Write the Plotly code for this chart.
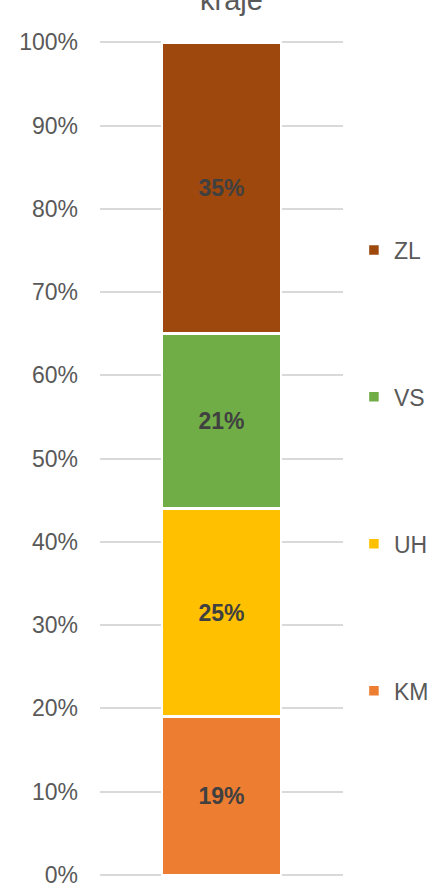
import plotly.graph_objects as go

categories = ["kraje"]
series = ["KM", "UH", "VS", "ZL"]
values = [19, 25, 21, 35]
colors = ["#ED7D31", "#FFC000", "#70AD47", "#9E480E"]
tick_vals = [0, 10, 20, 30, 40, 50, 60, 70, 80, 90, 100]
tick_text = [f"{v}%" for v in tick_vals]

fig = go.Figure()
for i, (name, val, col) in enumerate(zip(series, values, colors)):
    fig.add_trace(go.Bar(
        x=categories, y=[val], name=name, legendgroup=name,
        legendrank=1000 - i,
        marker=dict(color=col, line=dict(color="white", width=2.5)),
        text=[f"{val}%"], textposition="inside", insidetextanchor="middle",
        textfont=dict(family="Liberation Sans", size=23, color="#404040", weight="bold"),
        width=0.49,
    ))

fig.update_layout(
    barmode="stack",
    width=431, height=885,
    margin=dict(l=100, r=88, t=41, b=9, autoexpand=False),
    paper_bgcolor="white", plot_bgcolor="white",
    font=dict(family="Liberation Sans", color="#595959"),
    title=dict(text="kraje", x=0.537, xanchor="center", y=1, yanchor="middle",
               font=dict(size=29, color="#595959", family="Liberation Sans")),
    showlegend=True,
    legend=dict(traceorder="grouped", tracegroupgap=114, x=1.045, xanchor="left",
                y=0.4856, yanchor="middle", font=dict(size=23, color="#595959"),
                itemwidth=30, bgcolor="rgba(0,0,0,0)"),
    xaxis=dict(showticklabels=False, showgrid=False, zeroline=False, showline=False,
               automargin=False),
    yaxis=dict(range=[-0.15, 100.15], tickvals=tick_vals, ticktext=tick_text,
               showgrid=True, gridcolor="#D9D9D9", gridwidth=1.5, zeroline=False,
               tickfont=dict(size=23, color="#595959"), ticks="", ticklabelstandoff=21,
               ticklabeloverflow="allow", automargin=False),
)
fig.update_yaxes(showline=False)
fig.write_html("out.html", config={"displayModeBar": False},
               post_script="document.body.style.margin='0';document.body.style.overflow='hidden';")
